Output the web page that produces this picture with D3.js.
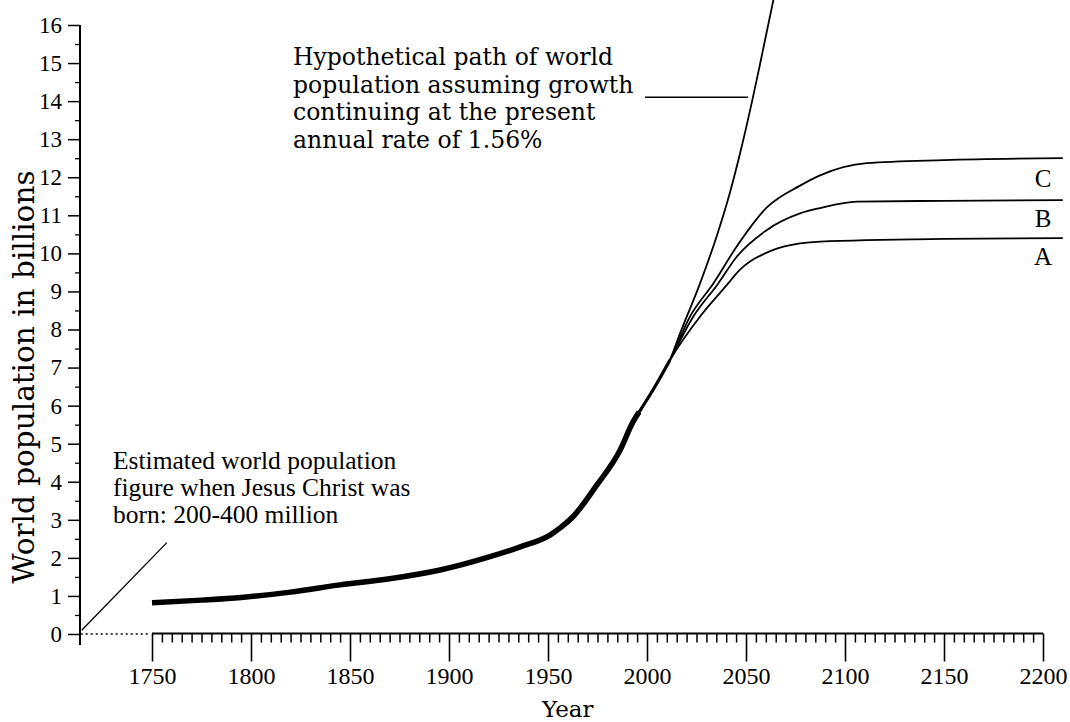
<!DOCTYPE html>
<html>
<head>
<meta charset="utf-8">
<script src="https://cdn.jsdelivr.net/npm/d3@7"></script>
<style>
  html, body { margin: 0; padding: 0; background: #fff; }
  svg { display: block; }
  .tick text { font-family: "Liberation Serif", "DejaVu Serif", serif; font-size: 24px; fill: #000; }
  .ann { font-family: "DejaVu Serif", serif; font-size: 22px; fill: #000; }
  .ser { font-family: "Liberation Serif", serif; fill: #000; }
</style>
</head>
<body>
<svg id="chart" width="1070" height="722"></svg>
<script>
// ---- Data ----
const histYears  = [1750, 1775, 1795, 1820, 1845, 1870, 1895.5, 1920.7, 1936, 1951, 1956, 1962.6, 1974.6, 1986.4, 1993, 1996];
const histValues = [0.82, 0.89, 0.96, 1.10, 1.29, 1.45, 1.68, 2.03, 2.29, 2.60, 2.78, 3.08, 3.91, 4.83, 5.58, 5.83];

const sharedYears  = [1996, 2003, 2011.6];
const sharedValues = [5.83, 6.41, 7.20];

const hypoYears  = [2016.7, 2026.7, 2035.2, 2041.9, 2047.8, 2053.5, 2057, 2066];
const hypoValues = [7.90, 9.20, 10.45, 11.60, 12.80, 14.10, 14.95, 17.20];

const cYears  = [2021.7, 2033.5, 2045.3, 2060.4, 2077.3, 2087.4, 2111, 2150, 2210];
const cValues = [8.34, 9.21, 10.18, 11.20, 11.78, 12.05, 12.37, 12.45, 12.50];

const bYears  = [2023.4, 2036, 2045.3, 2060.4, 2077.3, 2087.4, 2106, 2150, 2210];
const bValues = [8.34, 9.21, 9.91, 10.61, 11.05, 11.19, 11.36, 11.38, 11.40];

const aYears  = [2026.8, 2041, 2045.3, 2063.8, 2077.3, 2087.4, 2150, 2210];
const aValues = [8.34, 9.21, 9.48, 10.09, 10.26, 10.31, 10.38, 10.40];

const xMajorTicks = [1750, 1800, 1850, 1900, 1950, 2000, 2050, 2100, 2150, 2200];
const yMajorTicks = [0, 1, 2, 3, 4, 5, 6, 7, 8, 9, 10, 11, 12, 13, 14, 15, 16];

const scenarioLabels = ["C", "B", "A"];
const scenarioLabelValues = [11.74, 10.69, 9.69];

const hypoText = ["Hypothetical path of world", "population assuming growth",
                  "continuing at the present", "annual rate of 1.56%"];
const christText = ["Estimated world population", "figure when Jesus Christ was",
                    "born: 200-400 million"];
const hypoLeader = [[1999, 14.1], [2051, 14.1]];
const christLeader = [[1714.5, 0.1], [1757.5, 2.4]];
const zeroDotted = [[1714, 0], [1749, 0]];

// ---- Layout ----
const svg = d3.select("#chart");
const x = d3.scaleLinear().domain([1750, 2200]).range([152, 1043]);
const y = d3.scaleLinear().domain([0, 16]).range([634, 25]);
const axisX = 80;

const zip = (xs, vs) => xs.map((d, i) => [d, vs[i]]);
const line = d3.line().x(d => x(d[0])).y(d => y(d[1])).curve(d3.curveMonotoneX);
const straight = d3.line().x(d => x(d[0])).y(d => y(d[1]));

svg.append("defs").append("clipPath").attr("id", "clip")
  .append("rect").attr("x", 0).attr("y", 0).attr("width", 1070).attr("height", 722);

// ---- Y axis ----
const yMinor = d3.range(0.5, 16, 1);
svg.append("g").attr("transform", `translate(${axisX},0)`)
  .call(d3.axisLeft(y).tickValues(yMinor).tickSize(5).tickFormat(""))
  .call(g => g.select(".domain").remove())
  .call(g => g.selectAll("line").attr("stroke", "#000").attr("stroke-width", 1.3));
svg.append("g").attr("transform", `translate(${axisX},0)`)
  .call(d3.axisLeft(y).tickValues(yMajorTicks).tickSize(12).tickPadding(6).tickFormat(d3.format("d")))
  .call(g => g.select(".domain").remove())
  .call(g => g.selectAll("line").attr("stroke", "#000").attr("stroke-width", 1.5))
  .call(g => g.selectAll("text").style("font-size", "23px"));
svg.append("line")
  .attr("x1", axisX).attr("x2", axisX)
  .attr("y1", y(16)).attr("y2", y(0) + 11)
  .attr("stroke", "#000").attr("stroke-width", 2);

// ---- X axis ----
const xMinor = d3.range(1750, 2201, 5).filter(d => d % 50 !== 0);
svg.append("g").attr("transform", `translate(0,${y(0) - 0.5})`)
  .call(d3.axisBottom(x).tickValues(xMinor).tickSize(9).tickFormat(""))
  .call(g => g.select(".domain").remove())
  .call(g => g.selectAll("line").attr("stroke", "#000").attr("stroke-width", 1.5));
svg.append("g").attr("transform", `translate(0,${y(0) - 0.5})`)
  .call(d3.axisBottom(x).tickValues(xMajorTicks).tickSize(28).tickPadding(5).tickFormat(d3.format("d")))
  .call(g => g.select(".domain").remove())
  .call(g => g.selectAll("line").attr("stroke", "#000").attr("stroke-width", 1.6));
svg.append("line")
  .attr("x1", x(1750)).attr("x2", x(2200))
  .attr("y1", y(0) - 0.5).attr("y2", y(0) - 0.5)
  .attr("stroke", "#000").attr("stroke-width", 2);

svg.append("path").attr("d", straight(zeroDotted))
  .attr("fill", "none").attr("stroke", "#000").attr("stroke-width", 1.3)
  .attr("stroke-dasharray", "2,3");

// ---- Axis titles ----
svg.append("text").attr("class", "ann")
  .attr("transform", `translate(34,${y(6.75)}) rotate(-90)`)
  .attr("text-anchor", "middle").style("font-size", "29.5px")
  .text("World population in billions");
svg.append("text").attr("class", "ann")
  .attr("x", x(1960)).attr("y", 717)
  .attr("text-anchor", "middle").style("font-size", "23px")
  .text("Year");

// ---- Series ----
const g = svg.append("g").attr("clip-path", "url(#clip)");
const shared = zip(sharedYears, sharedValues);
[[hypoYears, hypoValues], [cYears, cValues], [bYears, bValues], [aYears, aValues]].forEach(([ys, vs]) => {
  g.append("path").attr("d", line(shared.concat(zip(ys, vs))))
    .attr("fill", "none").attr("stroke", "#000").attr("stroke-width", 1.8);
});
g.append("path").attr("d", line(shared))
  .attr("fill", "none").attr("stroke", "#000").attr("stroke-width", 3.2);
g.append("path").attr("d", line(zip(histYears, histValues)))
  .attr("fill", "none").attr("stroke", "#000").attr("stroke-width", 5.5)
  .attr("stroke-linecap", "butt");

// ---- Scenario labels ----
svg.selectAll(".scen").data(scenarioLabels).join("text")
  .attr("class", "ser scen")
  .attr("x", x(2200)).attr("y", (d, i) => y(scenarioLabelValues[i]))
  .attr("text-anchor", "middle").style("font-size", "25px")
  .text(d => d);

// ---- Annotations ----
svg.append("text").attr("class", "ann").style("font-size", "23.5px")
  .selectAll("tspan").data(hypoText).join("tspan")
  .attr("x", 293).attr("y", (d, i) => 65 + i * 27.7).text(d => d);
svg.append("path").attr("d", straight(hypoLeader))
  .attr("fill", "none").attr("stroke", "#000").attr("stroke-width", 1.5);

svg.append("text").attr("class", "ser").style("font-size", "25.5px")
  .selectAll("tspan").data(christText).join("tspan")
  .attr("x", 113).attr("y", (d, i) => 468.5 + i * 27).text(d => d);
svg.append("path").attr("d", straight(christLeader))
  .attr("fill", "none").attr("stroke", "#000").attr("stroke-width", 1.3);
</script>
</body>
</html>
